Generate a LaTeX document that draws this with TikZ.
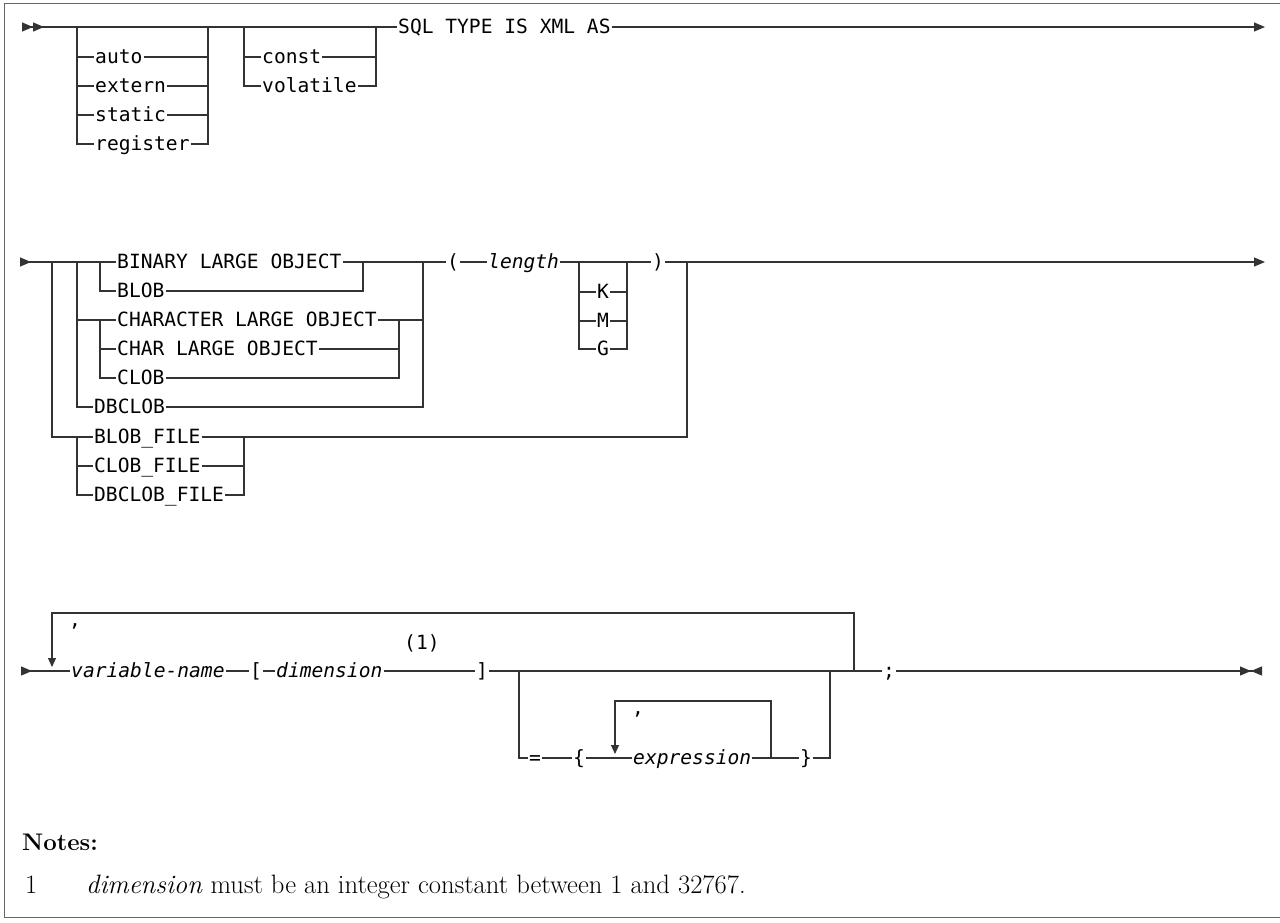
\documentclass[tikz,border=0pt]{standalone}
\usepackage{fontspec}
\newfontfamily\railfont{DejaVu Sans Mono}
\usetikzlibrary{arrows.meta}
\tikzset{
  rail/.style={draw=black!80, line width=1.1pt},
  kw/.style={font=\railfont\fontsize{19.6}{20}\selectfont, anchor=west,
    inner xsep=1pt, inner ysep=0pt, text height=13pt, text depth=0pt},
  var/.style={kw, font=\railfont\itshape\fontsize{19.6}{20}\selectfont},
  notetext/.style={font=\fontsize{26.6}{30}\selectfont, anchor=base west, inner sep=0pt},
  notehead/.style={notetext, font=\bfseries\fontsize{24}{28}\selectfont},
  tipend/.style={-{Triangle[length=11pt,width=9pt]}},
  tipbegin/.style={{Triangle[reversed,length=11pt,width=9pt]}-},
  tipbegintwo/.style={{Triangle[reversed,length=11pt,width=9pt]Triangle[reversed,length=11pt,width=9pt]}-},
  tipstop/.style={-{Triangle[length=11pt,width=9pt]Triangle[reversed,length=11pt,width=9pt]}},
  tipdown/.style={-{Triangle[length=9pt,width=8pt]}},
}
\begin{document}
\begin{tikzpicture}[x=1pt, y=-1pt]
  \useasboundingbox (0,0) rectangle (1280,922);
  \draw[black!60, line width=1.2pt] (1280,3.5) -- (4.5,3.5) -- (4.5,917.5) -- (1280,917.5);

  % row 1
  \coordinate (s1) at (22,27);
  \coordinate (e1) at (1265,27);
  \coordinate (g1l) at (77,27);
  \coordinate (g1r) at (208,27);
  \coordinate (g2l) at (244,27);
  \coordinate (g2r) at (376,27);
  \node[kw] (sql) at (397,27) {SQL TYPE IS XML AS};
  \draw[rail, tipbegintwo] (s1) -- (sql.west);
  \draw[rail, tipend] (sql.east) -- (e1);
  \foreach \n/\y in {auto/57, extern/86, static/115, register/144} {
    \node[kw] (\n) at (94,\y) {\n};
    \draw[rail] (g1l) |- (\n.west) (\n.east) -| (g1r);
  }
  \foreach \n/\y in {const/57, volatile/86} {
    \node[kw] (\n) at (261,\y) {\n};
    \draw[rail] (g2l) |- (\n.west) (\n.east) -| (g2r);
  }

  % row 2
  \coordinate (s2) at (20,262);
  \coordinate (e2) at (1265,262);
  \coordinate (o52) at (52,262);
  \coordinate (l77) at (77,262);
  \coordinate (b100) at (100,262);
  \coordinate (b363) at (363,262);
  \coordinate (l423) at (423,262);
  \coordinate (o687) at (687,262);
  \coordinate (c100) at (100,320);
  \coordinate (c399) at (399,320);
  \coordinate (f77) at (77,437);
  \coordinate (f244) at (244,437);
  \coordinate (k579) at (579,262);
  \coordinate (k627) at (627,262);
  \node[kw] (binary) at (116,262) {BINARY LARGE OBJECT};
  \node[kw] (blob) at (116,291) {BLOB};
  \node[kw] (character) at (116,320) {CHARACTER LARGE OBJECT};
  \node[kw] (charlarge) at (116,349) {CHAR LARGE OBJECT};
  \node[kw] (clob) at (116,378) {CLOB};
  \node[kw] (dbclob) at (93,407) {DBCLOB};
  \node[kw] (blobfile) at (93,437) {BLOB\_FILE};
  \node[kw] (clobfile) at (93,466) {CLOB\_FILE};
  \node[kw] (dbclobfile) at (93,495) {DBCLOB\_FILE};
  \node[kw] (lpar) at (446,262) {(};
  \node[var] (length) at (487,262) {length};
  \node[kw] (rpar) at (651,262) {)};
  \draw[rail, tipbegin] (s2) -- (binary.west);
  \draw[rail] (binary.east) -- (lpar.west) (lpar.east) -- (length.west)
    (length.east) -- (rpar.west);
  \draw[rail, tipend] (rpar.east) -- (e2);
  \draw[rail] (b100) |- (blob.west) (blob.east) -| (b363);
  \draw[rail] (l77) |- (character.west) (character.east) -| (l423);
  \draw[rail] (c100) |- (charlarge.west) (charlarge.east) -| (c399);
  \draw[rail] (c100) |- (clob.west) (clob.east) -| (c399);
  \draw[rail] (l77) |- (dbclob.west) (dbclob.east) -| (l423);
  \draw[rail] (o52) |- (blobfile.west) (blobfile.east) -| (o687);
  \draw[rail] (f77) |- (clobfile.west) (clobfile.east) -| (f244);
  \draw[rail] (f77) |- (dbclobfile.west) (dbclobfile.east) -| (f244);
  \foreach \n/\y in {K/292, M/321, G/349} {
    \node[kw] (\n) at (596,\y) {\n};
    \draw[rail] (k579) |- (\n.west) (\n.east) -| (k627);
  }

  % row 3
  \coordinate (s3) at (21,671);
  \coordinate (e3) at (1262,671);
  \coordinate (vr) at (854,671);
  \coordinate (vt) at (52,613);
  \coordinate (va) at (52,667);
  \coordinate (opl) at (519,671);
  \coordinate (opr) at (830,671);
  \coordinate (xr) at (771,758);
  \coordinate (xt) at (615,701);
  \coordinate (xa) at (615,754);
  \node[var] (varname) at (70,671) {variable-name};
  \node[kw] (lbrack) at (249,671) {[};
  \node[var] (dimension) at (275,671) {dimension};
  \node[kw] (mark1) at (403,643) {(1)};
  \node[kw] (rbrack) at (475,671) {]};
  \node[kw] (semi) at (882,671) {;};
  \node[kw] (comma1) at (68,620) {,};
  \node[kw] (eq) at (528,758) {=};
  \node[kw] (lbrace) at (572,758) {\{};
  \node[var] (expr) at (632,758) {expression};
  \node[kw] (rbrace) at (799,758) {\}};
  \node[kw] (comma2) at (631,708) {,};
  \draw[rail, tipbegin] (s3) -- (varname.west);
  \draw[rail] (varname.east) -- (lbrack.west) (lbrack.east) -- (dimension.west)
    (dimension.east) -- (rbrack.west) (rbrack.east) -- (semi.west);
  \draw[rail, tipstop] (semi.east) -- (e3);
  \draw[rail, tipdown] (vr) |- (vt) -- (va);
  \draw[rail] (opl) |- (eq.west) (eq.east) -- (lbrace.west) (lbrace.east) -- (expr.west)
    (expr.east) -- (rbrace.west) (rbrace.east) -| (opr);
  \draw[rail, tipdown] (xr) |- (xt) -- (xa);

  % notes
  \node[notehead] (notes) at (22,850) {Notes:};
  \node[notetext] (num1) at (25,893) {1};
  \node[notetext] (note1) at (86,893) {\textit{dimension} must be an integer constant between 1 and 32767.};
\end{tikzpicture}
\end{document}
